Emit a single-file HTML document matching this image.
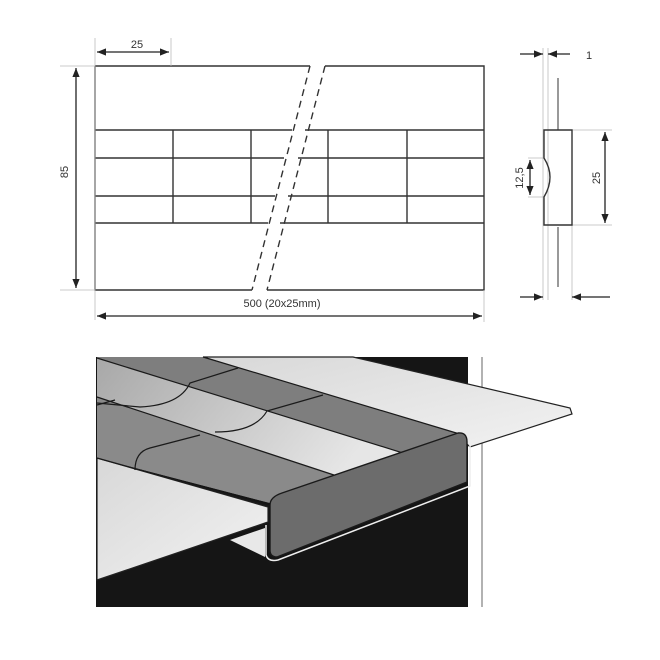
<!DOCTYPE html>
<html><head><style>body{margin:0;background:#fff}svg{display:block}</style></head><body>
<svg width="660" height="660" viewBox="0 0 660 660" xmlns="http://www.w3.org/2000/svg" font-family="Liberation Sans, sans-serif">
<defs>
<marker id="a" viewBox="0 0 10 10" refX="10" refY="5" markerWidth="7" markerHeight="7" orient="auto-start-reverse"><path d="M0,1L10,5L0,9z" fill="#222"/></marker>
<linearGradient id="g1" x1="0" y1="0" x2="1" y2="0.3"><stop offset="0" stop-color="#a8a8a8"/><stop offset="1" stop-color="#e6e6e6"/></linearGradient>
<linearGradient id="g2" x1="0" y1="0" x2="1" y2="1"><stop offset="0" stop-color="#d8d8d8"/><stop offset="1" stop-color="#f2f2f2"/></linearGradient>
</defs>
<g stroke="#333" stroke-width="1.4" fill="none">
<path d="M95,66H310M325,66H484V290H267M252,290H95V66"/>
<path d="M95,130H292M305,130H484M95,158H284M298,158H484M95,196H275M288,196H484M95,223H268M280,223H484"/>
<path d="M173,130V223M251,130V223M328,130V223M407,130V223"/>
<path d="M310,66L252,290M325,66L267,290" stroke-dasharray="7,5"/>
</g>
<g stroke="#bbb" stroke-width="0.8">
<path d="M95,38V320M171,38V66M484,290V322M60,66H95M60,290H95"/>
<path d="M543,48V300M548,48V300M572,225V300M572,130H612M572,225H612M528,158H544M528,197H544"/>
</g>
<g stroke="#222" stroke-width="1.3" fill="none">
<path d="M97,52H169" marker-start="url(#a)" marker-end="url(#a)"/>
<path d="M76,68V288" marker-start="url(#a)" marker-end="url(#a)"/>
<path d="M97,316H482" marker-start="url(#a)" marker-end="url(#a)"/>
<path d="M605,132V223" marker-start="url(#a)" marker-end="url(#a)"/>
<path d="M530,160V195" marker-start="url(#a)" marker-end="url(#a)"/>
<path d="M520,54H543" marker-end="url(#a)"/><path d="M570,54H548" marker-end="url(#a)"/>
<path d="M520,297H543" marker-end="url(#a)"/><path d="M610,297H572" marker-end="url(#a)"/>
</g>
<g stroke="#333" stroke-width="1.4" fill="none">
<path d="M544,130H572V225H544V197Q556,177 544,158Z"/>
<path d="M558,78V130M558,227V287" stroke-width="1"/>
</g>
<g fill="#333" font-size="11">
<text x="137" y="48" text-anchor="middle">25</text>
<text x="282" y="307" text-anchor="middle">500 (20x25mm)</text>
<text x="586" y="59">1</text>
<text transform="translate(68,172) rotate(-90)" text-anchor="middle">85</text>
<text transform="translate(600,178) rotate(-90)" text-anchor="middle">25</text>
<text transform="translate(523,178) rotate(-90)" text-anchor="middle">12,5</text>
</g>
<rect x="96" y="357" width="372" height="250" fill="#151515"/>
<line x1="482" y1="357" x2="482" y2="607" stroke="#999" stroke-width="1.5"/>
<polygon points="203,357 353,357 570,408 572,414 470,447 463,440" fill="url(#g2)" stroke="#222" stroke-width="1.2"/>
<polygon points="97,458 268,507 268,522 97,580" fill="url(#g2)" stroke="#222" stroke-width="1.2"/>
<polygon points="230,540 265,528 265,557" fill="#e8e8e8"/>
<polygon points="97,357 203,357 463,435 270,503 97,458" fill="#858585"/>
<path d="M97,358 L403,453 Q400,475 340,477 L97,397Z" fill="url(#g1)"/>
<polygon points="97,397 330,475 340,477 270,503 97,458" fill="#8a8a8a"/>
<polygon points="97,357 203,357 463,435 403,453" fill="#7e7e7e"/>
<g stroke="#1a1a1a" stroke-width="1.2" fill="none">
<path d="M203,357 L463,435"/>
<path d="M97,458 L270,506"/>
<path d="M97,358 L403,453 Q400,475 340,477 L97,397"/>
<path d="M238,368 L190,383 Q180,405 140,407 L97,403"/>
<path d="M323,395 L267,411 Q255,432 215,432"/>
<path d="M97,405 L115,400"/>
<path d="M200,435 L150,448 Q135,452 135,470"/>
</g>
<path d="M282,493 L458,433 Q467,432 467,442 L467,482 L277,557 Q270,557 270,550 L270,505 Q270,497 282,493Z" fill="#6c6c6c" stroke="#1a1a1a" stroke-width="1.4"/>
<path d="M266,525 V555 Q268,562 278,560 L470,486 V440" fill="none" stroke="#eee" stroke-width="1.5"/>
</svg>
</body></html>
